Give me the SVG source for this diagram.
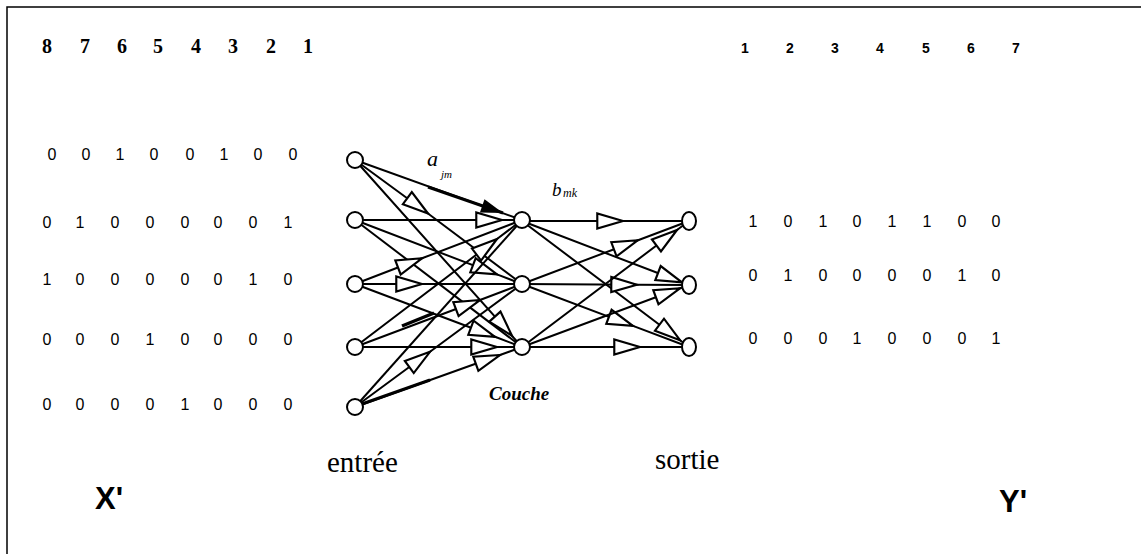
<svg xmlns="http://www.w3.org/2000/svg" width="1148" height="554" viewBox="0 0 1148 554">
<style>
.frame{fill:none;stroke:#000;stroke-width:1.5}
.node{fill:#fff;stroke:#000;stroke-width:2}
.edge{fill:none;stroke:#000;stroke-width:2;marker-mid:url(#tri)}
.plain{fill:none;stroke:#000;stroke-width:2}
.bin{font-family:"Liberation Sans",Arial,sans-serif;font-size:16px;text-anchor:middle;fill:#000}
.idxL{font-family:"Liberation Serif","Times New Roman",serif;font-size:20px;font-weight:bold;text-anchor:middle}
.idxR{font-family:"Liberation Sans",Arial,sans-serif;font-size:14px;font-weight:bold;text-anchor:middle}
.lbl{font-family:"Liberation Serif","Times New Roman",serif;font-size:29px}
.big{font-family:"Liberation Sans",Arial,sans-serif;font-size:31px;font-weight:bold}
.it{font-family:"Liberation Serif","Times New Roman",serif;font-style:italic}
</style>
<defs>
<marker id="tri" markerUnits="userSpaceOnUse" markerWidth="30" markerHeight="20" viewBox="-26 -9 28 18" refX="0" refY="0" orient="auto">
<path d="M0,0 L-24,-7 L-24,7 Z" fill="#fff" stroke="#000" stroke-width="2"/>
</marker>
<marker id="solid" markerUnits="userSpaceOnUse" markerWidth="26" markerHeight="18" viewBox="-24 -8 26 16" refX="0" refY="0" orient="auto">
<path d="M0,0 L-22,-7 L-22,7 Z" fill="#000"/>
</marker>
</defs>
<rect width="1148" height="554" fill="#fff"/>
<path class="frame" d="M7,554 V7 H1141"/>

<g id="connectors">
<!-- input to hidden -->
<polyline class="plain" points="355,160 522,220"/>
<polyline class="edge" points="355,160 428,213.5 522,284"/>
<polyline class="edge" points="355,160 512,335.8 522,347"/>
<polyline class="edge" points="355,220 502,220 522,220"/>
<polyline class="edge" points="355,220 497,274.4 522,284"/>
<polyline class="plain" points="355,220 522,347"/>
<polyline class="edge" points="355,284 422,258.3 522,220"/>
<polyline class="edge" points="355,284 422,284 522,284"/>
<polyline class="edge" points="355,284 495,336.8 522,347"/>
<polyline class="edge" points="355,347 497,239 522,220"/>
<polyline class="edge" points="355,347 480,300 522,284"/>
<polyline class="edge" points="355,347 497,347 522,347"/>
<polyline class="plain" points="355,407 522,220"/>
<polyline class="edge" points="355,407 430,351.8 522,284"/>
<polyline class="edge" points="355,407 500,355 522,347"/>
<line x1="402" y1="326" x2="434" y2="313" stroke="#000" stroke-width="3.5"/>
<line x1="362" y1="404" x2="430" y2="380" stroke="#000" stroke-width="3"/>
<!-- bold weight arrow a_jm -->
<line x1="428" y1="187" x2="503" y2="213" stroke="#000" stroke-width="3" marker-end="url(#solid)"/>
<!-- hidden to output -->
<polyline class="edge" points="522,221 623,221 689,221"/>
<polyline class="edge" points="522,221 682,282.3 689,285"/>
<polyline class="edge" points="522,221 680,340.2 689,347"/>
<polyline class="edge" points="522,284 638,240.2 689,221"/>
<polyline class="edge" points="522,284 637,284.7 689,285"/>
<polyline class="edge" points="522,284 633,325.9 689,347"/>
<polyline class="edge" points="522,347 677,230 689,221"/>
<polyline class="edge" points="522,347 680,288.3 689,285"/>
<polyline class="edge" points="522,347 640,347 689,347"/>
</g>

<g id="input-nodes">
<circle id="in1" class="node" cx="355" cy="160" r="8"/>
<circle id="in2" class="node" cx="355" cy="220" r="8"/>
<circle id="in3" class="node" cx="355" cy="284" r="8"/>
<circle id="in4" class="node" cx="355" cy="347" r="8"/>
<circle id="in5" class="node" cx="355" cy="407" r="8"/>
</g>
<g id="hidden-nodes">
<circle id="h1" class="node" cx="522" cy="220" r="8"/>
<circle id="h2" class="node" cx="522" cy="284" r="8"/>
<circle id="h3" class="node" cx="522" cy="347" r="8"/>
</g>
<g id="output-nodes">
<ellipse id="o1" class="node" cx="689" cy="221" rx="7" ry="9"/>
<ellipse id="o2" class="node" cx="689" cy="285" rx="7" ry="9"/>
<ellipse id="o3" class="node" cx="689" cy="347" rx="7" ry="9"/>
</g>

<g id="weight-labels">
<text class="it" x="427" y="166" font-size="22">a</text>
<text class="it" x="441" y="178" font-size="11">jm</text>
<text class="it" x="552" y="196" font-size="19">b</text>
<text class="it" x="563" y="197" font-size="12">mk</text>
<text class="it" x="489" y="400" font-size="19" font-weight="bold">Couche</text>
</g>

<g id="layer-labels">
<text class="lbl" x="327" y="472">entrée</text>
<text class="lbl" x="655" y="469">sortie</text>
<text class="big" x="95" y="509">X'</text>
<text class="big" x="999" y="512">Y'</text>
</g>

<g id="left-indices">
<text class="idxL" x="47" y="53">8</text>
<text class="idxL" x="85" y="53">7</text>
<text class="idxL" x="122" y="53">6</text>
<text class="idxL" x="158" y="53">5</text>
<text class="idxL" x="196" y="53">4</text>
<text class="idxL" x="233" y="53">3</text>
<text class="idxL" x="271" y="53">2</text>
<text class="idxL" x="308" y="53">1</text>
</g>
<g id="right-indices">
<text class="idxR" x="745" y="53">1</text>
<text class="idxR" x="790" y="53">2</text>
<text class="idxR" x="835" y="53">3</text>
<text class="idxR" x="880" y="53">4</text>
<text class="idxR" x="926" y="53">5</text>
<text class="idxR" x="971" y="53">6</text>
<text class="idxR" x="1016" y="53">7</text>
</g>

<g id="matrix-X">
<text class="bin" y="160"><tspan x="52">0</tspan><tspan x="86">0</tspan><tspan x="120">1</tspan><tspan x="154">0</tspan><tspan x="190">0</tspan><tspan x="224">1</tspan><tspan x="258">0</tspan><tspan x="293">0</tspan></text>
<text class="bin" y="228"><tspan x="47">0</tspan><tspan x="80">1</tspan><tspan x="115">0</tspan><tspan x="150">0</tspan><tspan x="185">0</tspan><tspan x="218">0</tspan><tspan x="253">0</tspan><tspan x="288">1</tspan></text>
<text class="bin" y="285"><tspan x="47">1</tspan><tspan x="80">0</tspan><tspan x="115">0</tspan><tspan x="150">0</tspan><tspan x="185">0</tspan><tspan x="218">0</tspan><tspan x="253">1</tspan><tspan x="288">0</tspan></text>
<text class="bin" y="345"><tspan x="47">0</tspan><tspan x="80">0</tspan><tspan x="115">0</tspan><tspan x="150">1</tspan><tspan x="185">0</tspan><tspan x="218">0</tspan><tspan x="253">0</tspan><tspan x="288">0</tspan></text>
<text class="bin" y="410"><tspan x="47">0</tspan><tspan x="80">0</tspan><tspan x="115">0</tspan><tspan x="150">0</tspan><tspan x="185">1</tspan><tspan x="218">0</tspan><tspan x="253">0</tspan><tspan x="288">0</tspan></text>
</g>

<g id="matrix-Y">
<text class="bin" y="227"><tspan x="753">1</tspan><tspan x="788">0</tspan><tspan x="823">1</tspan><tspan x="857">0</tspan><tspan x="892">1</tspan><tspan x="927">1</tspan><tspan x="962">0</tspan><tspan x="996">0</tspan></text>
<text class="bin" y="281"><tspan x="753">0</tspan><tspan x="788">1</tspan><tspan x="823">0</tspan><tspan x="857">0</tspan><tspan x="892">0</tspan><tspan x="927">0</tspan><tspan x="962">1</tspan><tspan x="996">0</tspan></text>
<text class="bin" y="344"><tspan x="753">0</tspan><tspan x="788">0</tspan><tspan x="823">0</tspan><tspan x="857">1</tspan><tspan x="892">0</tspan><tspan x="927">0</tspan><tspan x="962">0</tspan><tspan x="996">1</tspan></text>
</g>
</svg>
